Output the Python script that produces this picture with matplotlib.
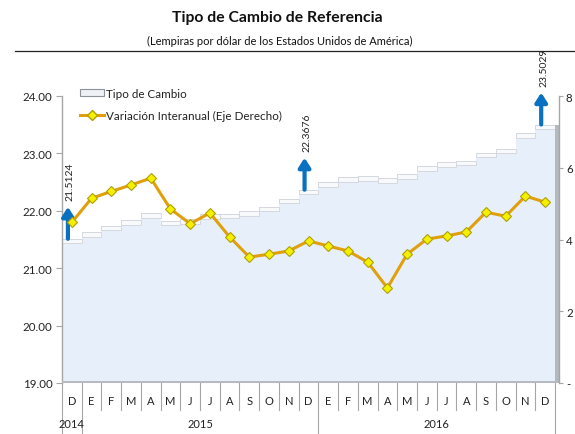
import matplotlib
matplotlib.use("Agg")
import matplotlib.pyplot as plt
import matplotlib.transforms as mtransforms
from matplotlib.lines import Line2D
from matplotlib.patches import Patch
import numpy as np

plt.rcParams['font.family'] = ['Lato', 'DejaVu Sans']

# ---- data ----
months = ['D', 'E', 'F', 'M', 'A', 'M', 'J', 'J', 'A', 'S', 'O', 'N',
          'D', 'E', 'F', 'M', 'A', 'M', 'J', 'J', 'A', 'S', 'O', 'N', 'D']
years = ['2014', '2015', '2016']
tipo_cambio = [21.5124, 21.63, 21.74, 21.84, 21.96, 21.83, 21.85, 21.94, 21.95,
               21.99, 22.07, 22.21, 22.3676, 22.50, 22.59, 22.60, 22.57, 22.64,
               22.78, 22.85, 22.87, 23.01, 23.08, 23.35, 23.5029]
variacion = [4.48, 5.15, 5.34, 5.52, 5.71, 4.85, 4.44, 4.74, 4.07, 3.51, 3.59,
             3.68, 3.96, 3.82, 3.68, 3.37, 2.65, 3.59, 4.01, 4.10, 4.21, 4.76,
             4.65, 5.21, 5.04]
arrow_idx = [0, 12, 24]
arrow_labels = ['21.5124', '22.3676', '23.5029']
left_ticks = [19, 20, 21, 22, 23, 24]
left_labels = ['19.00', '20.00', '21.00', '22.00', '23.00', '24.00']
right_ticks = [0, 2, 4, 6, 8]
right_labels = ['-', '2', '4', '6', '8']

W, H = 575, 435
fig = plt.figure(figsize=(W / 100, H / 100), dpi=100)
fig.patch.set_facecolor('white')

x0, x1, ytop, ybot = 62, 559, 97, 384
ax = fig.add_axes([x0 / W, 1 - ybot / H, (x1 - x0) / W, (ybot - ytop) / H])
ax.set_facecolor('white')
x = np.arange(len(months))
xmax = 24.5 + 4 / 19.72
ax.set_xlim(-0.5, xmax)
ax.set_ylim(19, 24)

vals = np.array(tipo_cambio)
# columns (front faces)
ax.bar(x, vals - 19, bottom=19, width=1.0, color='#e7f0fa', edgecolor='none', zorder=1)
# caps of columns
cap = 0.08
ax.bar(x, cap, bottom=vals - cap, width=1.0, color='#f8f9fb',
       edgecolor='#d0d4da', linewidth=0.6, zorder=2)
# right side face of last column
ax.bar([24.5 + (xmax - 24.5) / 2], [vals[-1] - 19], bottom=19, width=(xmax - 24.5),
       color='#b4b9c0', edgecolor='none', zorder=2)
# floor
ax.axhline(19, xmin=0, xmax=25 / (xmax + 0.5), color='#b4b9c0', linewidth=3.5, zorder=3)

for s in ['top', 'bottom', 'right']:
    ax.spines[s].set_visible(False)
ax.spines['left'].set_color('#a6a6a6')
ax.spines['left'].set_linewidth(1.0)

ax.set_yticks(left_ticks)
ax.set_yticklabels(left_labels, fontsize=8.3, color='#222222')
ax.tick_params(axis='y', length=4, color='#a6a6a6', pad=3)
ax.set_xticks([])

# month labels and separators
trans = mtransforms.blended_transform_factory(ax.transData, ax.transAxes)
ph = ybot - ytop
for i, m in enumerate(months):
    ax.text(i, -18 / ph, m, transform=trans, ha='center', va='center',
            fontsize=8, color='#222222')
for i in range(len(months) - 1):
    b = i + 0.5
    long = (i == 0 or i == 12)
    y_end = -51 / ph if long else -27 / ph
    ax.add_line(Line2D([b, b], [0, y_end], transform=trans, color='#a6a6a6',
                       linewidth=0.8, clip_on=False))
for b in [-0.5, 24.5]:
    ax.add_line(Line2D([b, b], [0, -51 / ph], transform=trans, color='#a6a6a6',
                       linewidth=0.8, clip_on=False))
year_pos = [0, 6.5, 18.5]
for yp, yl in zip(year_pos, years):
    ax.text(yp, -41 / ph, yl, transform=trans, ha='center', va='center',
            fontsize=8, color='#222222')

# arrows with labels
for i, lab in zip(arrow_idx, arrow_labels):
    xi = i - 0.2
    ax.annotate('', xy=(xi, vals[i]), xycoords='data',
                xytext=(0, 23), textcoords='offset points',
                arrowprops=dict(arrowstyle='<|-,head_width=0.35,head_length=0.55',
                                color='#0a70c0', lw=3, shrinkA=0, shrinkB=0),
                zorder=6)
    ax.annotate(lab, xy=(i, vals[i]), xycoords='data',
                xytext=(-1, 28), textcoords='offset points', rotation=90,
                ha='center', va='bottom', fontsize=7.5, color='#222222', zorder=6)

# right axis line chart
ax2 = ax.twinx()
ax2.set_ylim(0, 8)
ax2.set_xlim(-0.5, xmax)
line, = ax2.plot(x, variacion, color='#e0a00c', linewidth=2.2, marker='D',
                 markersize=5.5, markerfacecolor='#f5f000', markeredgecolor='#b0a000',
                 markeredgewidth=0.8, zorder=5)
for s in ['top', 'bottom', 'left']:
    ax2.spines[s].set_visible(False)
ax2.spines['right'].set_color('#a6a6a6')
ax2.spines['right'].set_linewidth(1.0)
ax2.set_yticks(right_ticks)
ax2.set_yticklabels(right_labels, fontsize=8.3, color='#222222')
ax2.tick_params(axis='y', length=3, color='#a6a6a6', pad=2)

# legend
handles = [Patch(facecolor='#eef1f5', edgecolor='#8c929a', linewidth=0.8),
           Line2D([], [], color='#e0a00c', linewidth=2.2, marker='D', markersize=5.5,
                  markerfacecolor='#f5f000', markeredgecolor='#b0a000')]
leg = ax2.legend(handles, ['Tipo de Cambio', 'Variación Interanual (Eje Derecho)'],
                 loc='upper left', bbox_to_anchor=(0.015, 1.065), frameon=False,
                 fontsize=8.4, handlelength=2.1, handletextpad=0.1, labelspacing=0.95,
                 handleheight=0.5)
for t in leg.get_texts():
    t.set_color('#222222')

# titles
fig.text(277 / W, 1 - 18 / H, 'Tipo de Cambio de Referencia', ha='center', va='center',
         fontsize=11.3, fontweight='bold', color='#111111')
fig.text(280 / W, 1 - 41 / H, '(Lempiras por dólar de los Estados Unidos de América)',
         ha='center', va='center', fontsize=8, color='#111111')
fig.add_artist(Line2D([15 / W, 1.0], [1 - 52 / H, 1 - 52 / H], color='#222222',
                      linewidth=0.9))

fig.savefig('out.png', dpi=100)
